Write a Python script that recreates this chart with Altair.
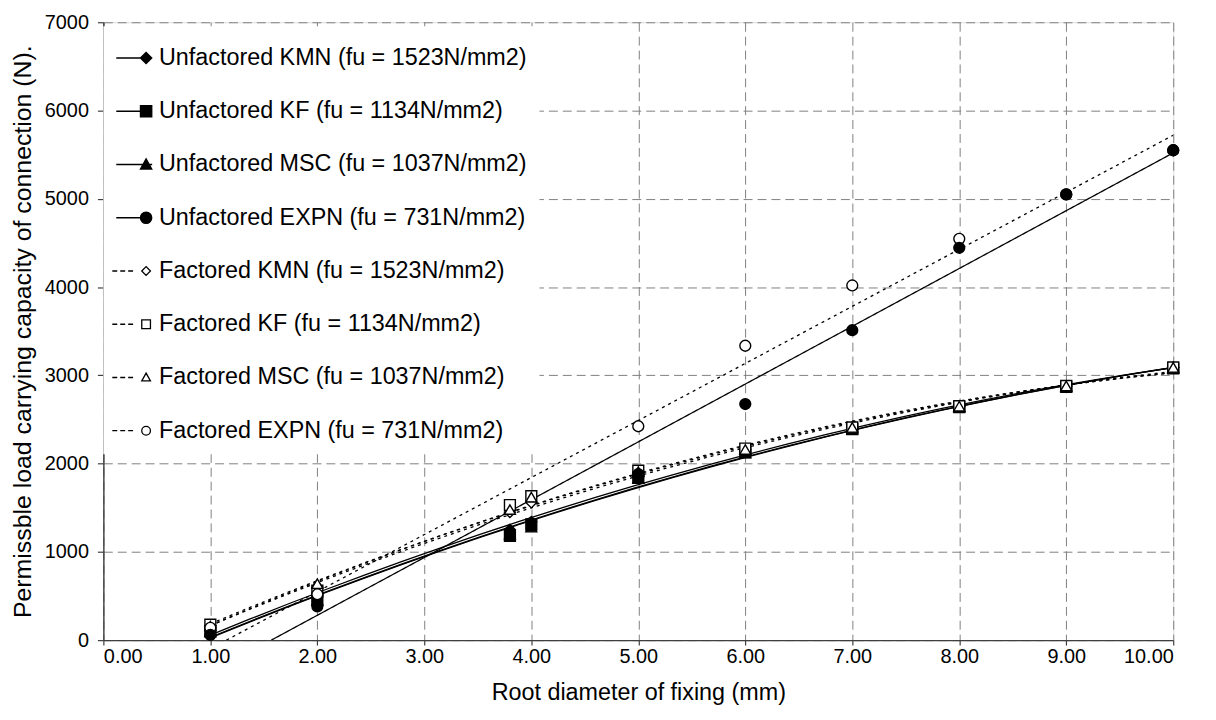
import altair as alt
import pandas as pd

# ---------------- data ----------------
series_names = [
    "Unfactored KMN (fu = 1523N/mm2)",
    "Unfactored KF (fu = 1134N/mm2)",
    "Unfactored MSC (fu = 1037N/mm2)",
    "Unfactored EXPN (fu = 731N/mm2)",
    "Factored KMN (fu = 1523N/mm2)",
    "Factored KF (fu = 1134N/mm2)",
    "Factored MSC (fu = 1037N/mm2)",
    "Factored EXPN (fu = 731N/mm2)",
]
# order in which the series are painted (last one on top)
paint_order = [0, 1, 2, 4, 5, 6, 7, 3]

x_fix = [1, 2, 3.8, 4, 5, 6, 7, 8, 9, 10]
x_expn = [1, 2, 5, 6, 7, 8, 9, 10]

unf_kmn = [110, 490, 1250, 1340, 1850, 2140, 2400, 2650, 2880, 3090]
unf_kf = [100, 460, 1180, 1310, 1840, 2130, 2390, 2640, 2870, 3080]
unf_msc = [95, 450, 1200, 1280, 1830, 2120, 2390, 2640, 2870, 3080]
unf_expn = [60, 383, 1880, 2675, 3511, 4445, 5050, 5550]
fac_kmn = [165, 600, 1450, 1560, 1900, 2160, 2410, 2650, 2880, 3090]
fac_kf = [175, 560, 1530, 1630, 1920, 2170, 2410, 2650, 2880, 3090]
fac_msc = [160, 640, 1480, 1620, 1910, 2160, 2410, 2650, 2880, 3090]
fac_expn = [140, 520, 2423, 3335, 4018, 4546, 5050, 5550]

# linear trend lines of the EXPN series
trend_unf_expn_x = [1.57, 10]
trend_unf_expn_y = [0, 5520]
trend_fac_expn_x = [1.15, 10]
trend_fac_expn_y = [0, 5720]

x_ticks = [0, 1, 2, 3, 4, 5, 6, 7, 8, 9, 10]
y_ticks = [0, 1000, 2000, 3000, 4000, 5000, 6000, 7000]

marker_shapes = ["diamond", "square", "triangle-up", "circle"] * 2
marker_fills = ["black"] * 4 + ["white"] * 4
marker_strokes = ["black"] * 8


# ---------------- legend symbol paths: line (solid / dashed) + marker ----------------
def diamond(cx, h):
    return f"M{cx-h:.3f},0L{cx:.3f},{-h:.3f}L{cx+h:.3f},0L{cx:.3f},{h:.3f}Z"


def square(cx, h):
    return f"M{cx-h:.3f},{-h:.3f}L{cx+h:.3f},{-h:.3f}L{cx+h:.3f},{h:.3f}L{cx-h:.3f},{h:.3f}Z"


def triangle(cx, h):
    return f"M{cx:.3f},{-h:.3f}L{cx+h:.3f},{h*0.8:.3f}L{cx-h:.3f},{h*0.8:.3f}Z"


def circle(cx, h):
    return f"M{cx+h:.3f},0A{h:.3f},{h:.3f},0,1,1,{cx-h:.3f},0A{h:.3f},{h:.3f},0,1,1,{cx+h:.3f},0Z"


makers = [diamond, square, triangle, circle]
solid_seg = "M-1,0L0.9,0"
dash_seg = "M-1.21,0L-0.95,0M-0.79,0L-0.53,0M-0.37,0L-0.11,0"
legend_paths = [solid_seg + m(0.58, 0.30) for m in makers] + \
               [dash_seg + m(0.58, 0.23) for m in makers]

# ---------------- tables ----------------
series_x = [x_fix, x_fix, x_fix, x_expn, x_fix, x_fix, x_fix, x_expn]
series_y = [unf_kmn, unf_kf, unf_msc, unf_expn, fac_kmn, fac_kf, fac_msc, fac_expn]
rows = []
for i in paint_order:
    for xv, yv in zip(series_x[i], series_y[i]):
        rows.append({"series": series_names[i], "x": xv, "y": yv})
points = pd.DataFrame(rows)

trend_rows = []
for name, xs, ys in [(series_names[3], trend_unf_expn_x, trend_unf_expn_y),
                     (series_names[7], trend_fac_expn_x, trend_fac_expn_y)]:
    for xv, yv in zip(xs, ys):
        trend_rows.append({"series": name, "x": xv, "y": yv})
trends = pd.DataFrame(trend_rows)

FONT = "Liberation Sans"
AX = "#404040"
GRID = "#808080"

x_enc = alt.X("x:Q", scale=alt.Scale(domain=[0, 10], nice=False, zero=False),
              axis=alt.Axis(values=x_ticks, format=".2f", title="Root diameter of fixing (mm)",
                            grid=True, gridDash=[9, 5], gridColor=GRID, gridWidth=1,
                            domainColor=AX, domainWidth=1.4, tickColor=AX, tickWidth=1.2,
                            tickSize=5, labelPadding=2,
                            labelFontSize=20, labelFont=FONT, labelColor="black",
                            titleFontSize=23.5, titleFont=FONT, titleColor="black",
                            titleFontWeight="normal", titleY=53, titleBaseline="middle"))
y_enc = alt.Y("y:Q", scale=alt.Scale(domain=[0, 7000], nice=False),
              axis=alt.Axis(values=y_ticks, format="d",
                            title="Permissble load carrying capacity of connection (N).",
                            grid=True, gridDash=[9, 5], gridColor=GRID, gridWidth=1,
                            domainColor=AX, domainWidth=1.4, tickColor=AX, tickWidth=1.2,
                            tickSize=6, labelPadding=9,
                            labelFontSize=20, labelFont=FONT, labelColor="black",
                            titleFontSize=25, titleFont=FONT, titleColor="black",
                            titleFontWeight="normal", titlePadding=9))

fixings_unf = series_names[0:3]
fixings_fac = series_names[4:7]

curves_unf = (alt.Chart(points)
              .transform_filter(alt.FieldOneOfPredicate(field="series", oneOf=fixings_unf))
              .transform_regression("x", "y", method="poly", order=2, groupby=["series"])
              .mark_line(color="black", strokeWidth=1.3, clip=True)
              .encode(x=x_enc, y=y_enc, detail="series:N"))

curves_fac = (alt.Chart(points)
              .transform_filter(alt.FieldOneOfPredicate(field="series", oneOf=fixings_fac))
              .transform_regression("x", "y", method="poly", order=2, groupby=["series"])
              .mark_line(color="black", strokeWidth=1.3, strokeDash=[3, 4], clip=True)
              .encode(x=x_enc, y=y_enc, detail="series:N"))

trend_lines = (alt.Chart(trends)
               .mark_line(color="black", strokeWidth=1.3, clip=True)
               .encode(x=x_enc, y=y_enc, detail="series:N",
                       strokeDash=alt.StrokeDash("series:N",
                                                 scale=alt.Scale(domain=[series_names[3], series_names[7]],
                                                                 range=[[1, 0], [3, 4]]),
                                                 legend=None)))

pts = (alt.Chart(points)
       .mark_point(filled=True, stroke="black", strokeWidth=1.4, size=120, opacity=1)
       .encode(x=x_enc, y=y_enc,
               shape=alt.Shape("series:N", scale=alt.Scale(domain=series_names, range=marker_shapes),
                               legend=None),
               fill=alt.Fill("series:N", scale=alt.Scale(domain=series_names, range=marker_fills),
                             legend=None)))

leg = alt.Legend(title=None, orient="none", legendX=0, legendY=4, fillColor="white",
                 padding=12, labelFont=FONT, labelFontSize=23.5, labelColor="black",
                 labelLimit=0, labelOffset=4, rowPadding=21.6, symbolSize=1444,
                 symbolStrokeWidth=1.3, symbolStrokeColor="black", labelBaseline="middle")

legend_layer = (alt.Chart(points)
                .transform_filter("datum.y < -1000000")
                .mark_point(filled=True, strokeWidth=1.3, size=1444, opacity=1)
                .encode(x=x_enc, y=y_enc,
                        shape=alt.Shape("series:N", scale=alt.Scale(domain=series_names, range=legend_paths),
                                        legend=leg),
                        fill=alt.Fill("series:N", scale=alt.Scale(domain=series_names, range=marker_fills),
                                      legend=leg),
                        stroke=alt.Stroke("series:N", scale=alt.Scale(domain=series_names, range=marker_strokes),
                                          legend=leg)))

chart = (alt.layer(curves_unf, curves_fac, trend_lines, pts, legend_layer)
         .resolve_scale(shape="independent", fill="independent", stroke="independent",
                        strokeDash="independent")
         .properties(width=1077, height=622,
                     autosize=alt.AutoSizeParams(type="none"),
                     padding={"left": 96, "top": 12, "right": 35, "bottom": 70})
         .configure_view(stroke=None)
         .configure(background="white"))

chart.save("out.html", embed_options={"renderer": "svg", "actions": False})
